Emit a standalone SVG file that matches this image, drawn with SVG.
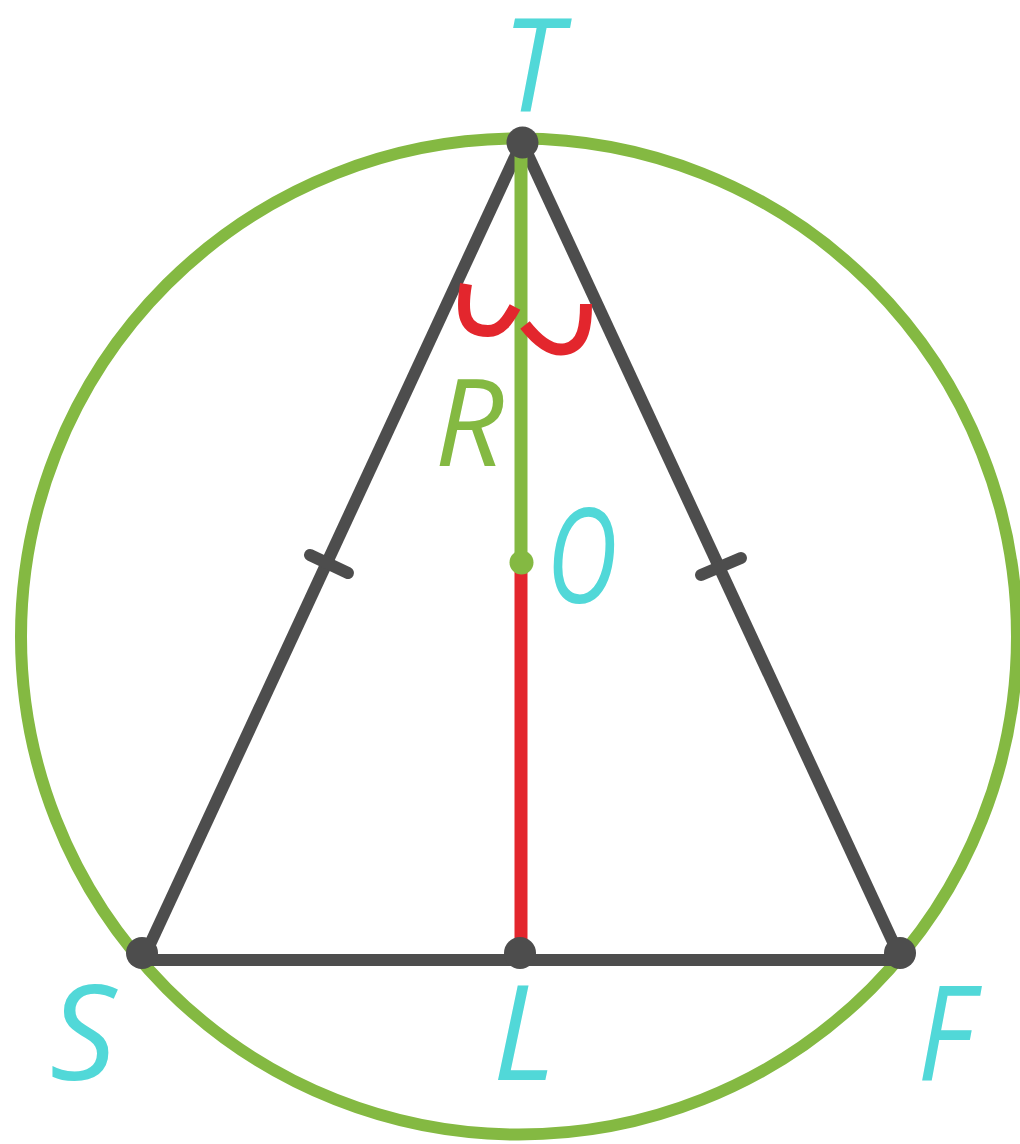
<svg xmlns="http://www.w3.org/2000/svg" width="1020" height="1144" viewBox="0 0 1020 1144">
<style>
.edge{stroke:#4d4d4d;stroke-width:12;stroke-linecap:round;fill:none}
.tick{stroke:#4d4d4d;stroke-width:12;stroke-linecap:round}
.dot{fill:#4d4d4d}
.lbl{font-family:"Open Sans","DejaVu Sans",sans-serif;font-style:italic;font-size:131px;fill:#51d8d8;text-anchor:middle}
.arc{stroke:#e3262d;stroke-width:12;fill:none;stroke-linecap:butt}
</style>
<rect width="1020" height="1144" fill="#ffffff"/>
<g id="circle">
<circle cx="519" cy="636.5" r="498" fill="none" stroke="#84b942" stroke-width="12"/>
</g>
<g id="connectors">
<line class="edge" x1="522" y1="142" x2="145" y2="955"/>
<line class="edge" x1="522" y1="142" x2="899" y2="955"/>
<line class="edge" x1="142" y1="960" x2="900" y2="960" stroke-linecap="butt"/>
<line x1="521" y1="142" x2="521" y2="562" stroke="#84b942" stroke-width="13"/>
<line x1="521" y1="562" x2="521" y2="953" stroke="#e3262d" stroke-width="13"/>
<line class="tick" x1="310" y1="555" x2="348" y2="573"/>
<line class="tick" x1="701" y1="575" x2="741" y2="558"/>
<path class="arc" d="M466,284 C461,314 464,331 488,331 C501,331 508,320 515,307"/>
<path class="arc" d="M525,325 C540,344 553,352 566,349 C584,345 586,325 586,304"/>
</g>
<g id="T"><circle class="dot" cx="522.5" cy="142.5" r="16"/><text class="lbl" transform="translate(532,111) scale(0.9,1)">T</text></g>
<g id="S"><circle class="dot" cx="142" cy="953" r="16"/><text class="lbl" x="83" y="1080">S</text></g>
<g id="L"><circle class="dot" cx="520" cy="953" r="16"/><text class="lbl" x="524" y="1080">L</text></g>
<g id="F"><circle class="dot" cx="900" cy="953" r="16"/><text class="lbl" transform="translate(945,1080) scale(0.89,1)">F</text></g>
<g id="O"><circle cx="521.5" cy="562.5" r="12" fill="#84b942"/><text class="lbl" transform="translate(582,603) scale(0.75,1)">O</text></g>
<g id="R"><text class="lbl" x="469" y="466" style="fill:#84b942;font-size:121px">R</text></g>
</svg>
